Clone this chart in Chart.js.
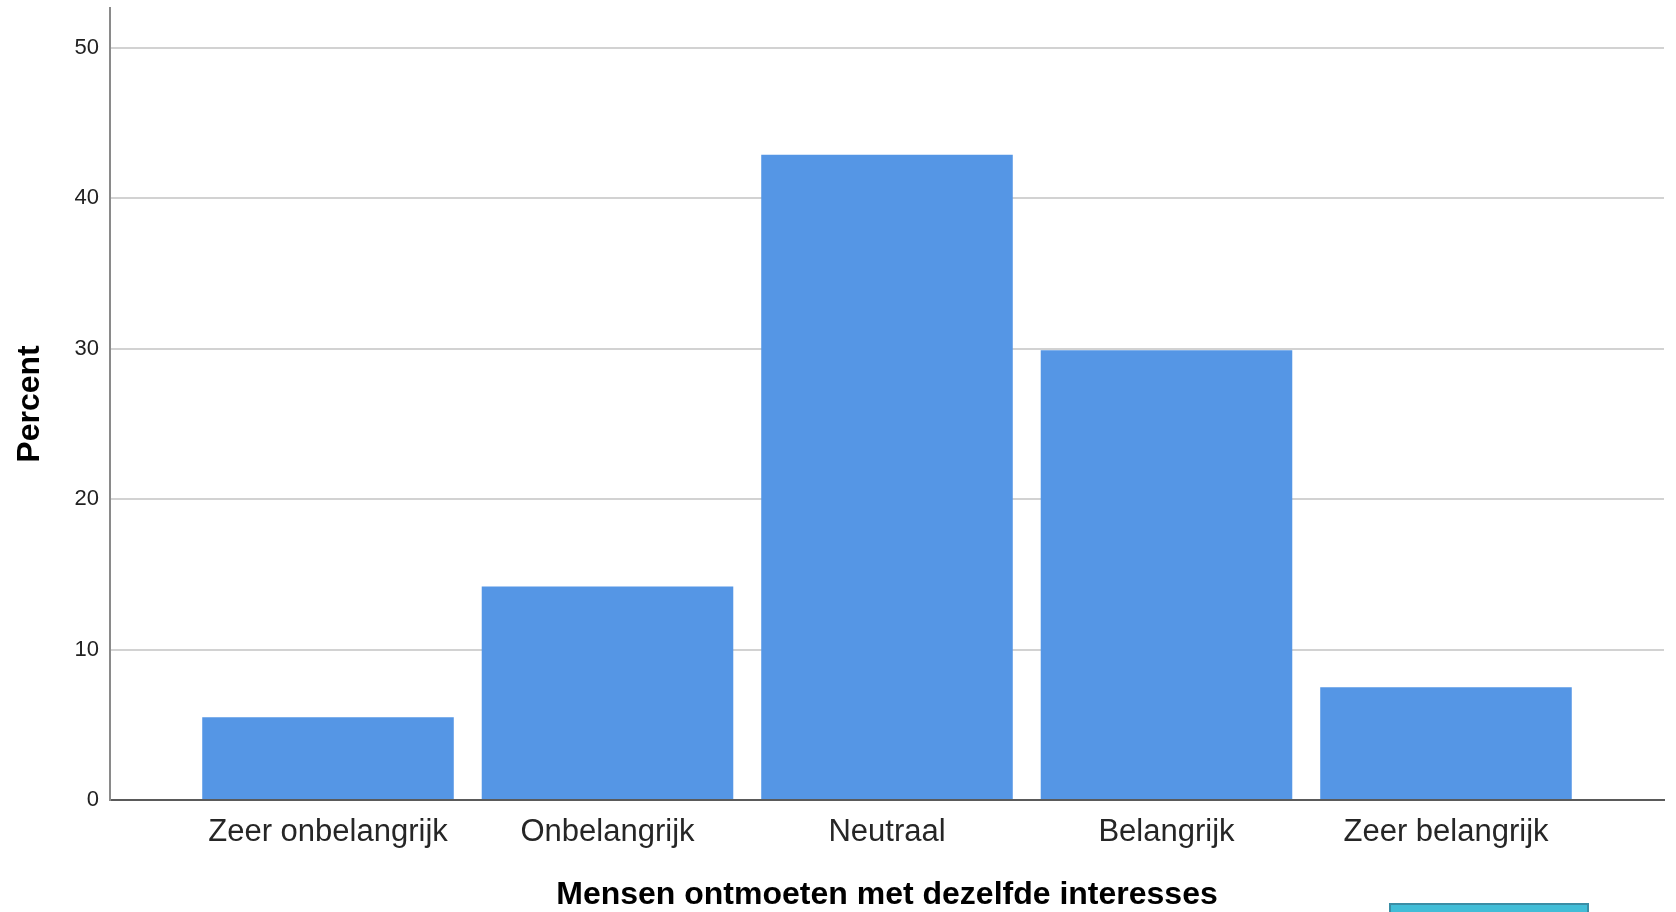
<!DOCTYPE html>
<html>
<head>
<meta charset="utf-8">
<script src="https://cdn.jsdelivr.net/npm/chart.js@4"></script>
<style>
  body { margin: 0; background: #fff; }
  #wrap { position: relative; width: 1676px; height: 912px; overflow: hidden; }
  #tab { position: absolute; left: 1389px; top: 903px; width: 196px; height: 14px;
         background: #41bdd7; border: 2px solid #3a8ea6; }
</style>
</head>
<body>
<div id="wrap">
  <canvas id="chart"></canvas>
  <div id="tab"></div>
</div>
<script>
// categories and percent values
const categories = ['Zeer onbelangrijk', 'Onbelangrijk', 'Neutraal', 'Belangrijk', 'Zeer belangrijk'];
const percents = [5.5, 14.2, 42.9, 29.9, 7.5];
const yTicks = [0, 10, 20, 30, 40, 50];

const points = categories.map((c, i) => ({ x: i + 1, y: percents[i] }));

const ctx = document.getElementById('chart').getContext('2d');
new Chart(ctx, {
  type: 'bar',
  data: {
    datasets: [{
      label: 'Percent',
      data: points,
      backgroundColor: '#5596e5',
      borderWidth: 0,
      barPercentage: 0.9,
      categoryPercentage: 1
    }]
  },
  options: {
    responsive: true,
    maintainAspectRatio: false,
    animation: false,
    layout: { padding: { top: 8, right: 12, left: 0, bottom: 0 } },
    plugins: { legend: { display: false }, tooltip: { enabled: false } },
    scales: {
      x: {
        type: 'linear',
        offset: false,
        min: 0.22,
        max: 5.78,
        afterFit: (scale) => {
          scale.height = 112;
          scale.paddingLeft = 0;
          scale.paddingRight = 0;
        },
        grid: { display: false, drawTicks: false },
        border: { display: true, color: '#5a5a5a', width: 2 },
        ticks: {
          stepSize: 1,
          includeBounds: false,
          autoSkip: false,
          maxRotation: 0,
          padding: 14,
          color: '#262626',
          font: { family: 'Liberation Sans, Arial, sans-serif', size: 31 },
          callback: (v) => categories[v - 1] || ''
        },
        title: {
          display: true,
          text: 'Mensen ontmoeten met dezelfde interesses',
          color: '#000',
          font: { family: 'Liberation Sans, Arial, sans-serif', size: 32, weight: 'bold', lineHeight: 1 },
          padding: { top: 0, bottom: 1 }
        }
      },
      y: {
        min: 0,
        max: 52.66,
        afterFit: (scale) => {
          scale.width = 110;
          scale.paddingTop = 0;
          scale.paddingBottom = 0;
        },
        afterBuildTicks: (scale) => { scale.ticks = yTicks.map(v => ({ value: v })); },
        grid: { color: '#d2d2d2', lineWidth: 2, drawTicks: false },
        border: { display: true, color: '#8a8a8a', width: 2 },
        ticks: {
          padding: 11,
          color: '#222',
          font: { family: 'Liberation Sans, Arial, sans-serif', size: 22 }
        },
        title: {
          display: true,
          text: 'Percent',
          color: '#000',
          font: { family: 'Liberation Sans, Arial, sans-serif', size: 32, weight: 'bold', lineHeight: 1 },
          padding: { top: 14, bottom: 0 }
        }
      }
    }
  }
});
</script>
</body>
</html>
